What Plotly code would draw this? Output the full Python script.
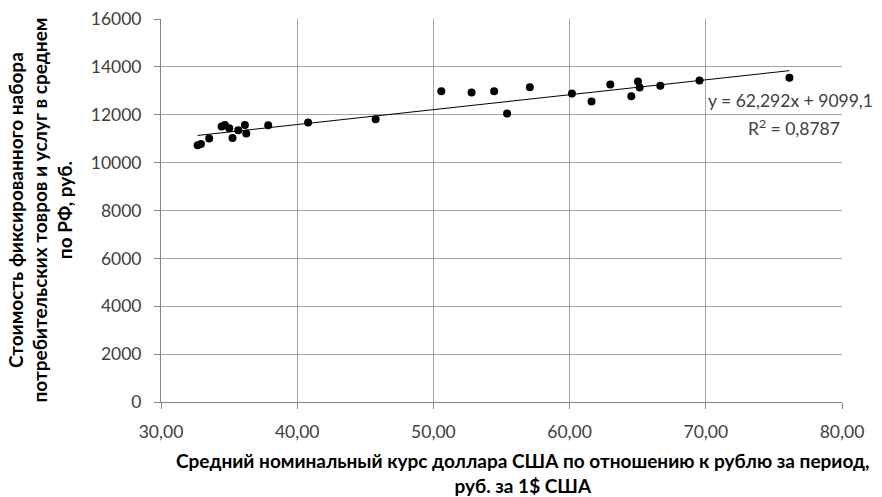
import plotly.graph_objects as go

# средний курс доллара, руб. за 1$
usd_rate = [32.69, 32.93, 33.54, 34.45, 34.69, 35.01, 35.25, 35.67, 36.16, 36.26,
            37.87, 40.80, 45.76, 50.58, 52.80, 54.46, 55.41, 57.08, 60.17, 61.61,
            62.99, 64.53, 65.02, 65.14, 66.66, 69.54, 76.14]
# стоимость фиксированного набора, руб.
basket_cost = [10723, 10777, 11003, 11506, 11573, 11435, 11028, 11351, 11573, 11213,
               11560, 11673, 11812, 12984, 12930, 12984, 12050, 13152, 12888, 12553,
               13265, 12775, 13390, 13139, 13207, 13432, 13542]

slope = 62.292
intercept = 9099.1
eq_text = "y = 62,292x + 9099,1"
r2_text = "R<sup>2</sup> = 0,8787"

x_ticks = [30, 40, 50, 60, 70, 80]
x_tick_labels = ["30,00", "40,00", "50,00", "60,00", "70,00", "80,00"]
y_ticks = [0, 2000, 4000, 6000, 8000, 10000, 12000, 14000, 16000]
y_tick_labels = [str(v) for v in y_ticks]

x_title = "<b>Средний номинальный курс доллара США по отношению к рублю за период,<br>руб. за 1$ США</b>"
y_title = "<b>Стоимость фиксированного набора<br>потребительских товров и услуг в среднем<br>по РФ, руб.</b>"

font_name = "Lato"
W, H = 882, 497
L, R, T, B = 161, 40, 19, 95
pw, ph = W - L - R, H - T - B

fig = go.Figure()
fig.add_trace(go.Scatter(x=usd_rate, y=basket_cost, mode="markers",
                         marker=dict(color="black", size=8), showlegend=False))

x0, x1 = min(usd_rate), max(usd_rate)
fig.add_trace(go.Scatter(x=[x0, x1], y=[slope * x0 + intercept, slope * x1 + intercept],
                         mode="lines", line=dict(color="black", width=1), showlegend=False))

# trendline label
fig.add_annotation(x=70, y=1 - (100 - T) / ph, xref="x", yref="paper", text=eq_text,
                   showarrow=False, xanchor="left", yanchor="middle",
                   font=dict(size=17.5, color="#404040", family=font_name))
fig.add_annotation(x=80, y=1 - (128 - T) / ph, xref="x", yref="paper", text=r2_text,
                   showarrow=False, xanchor="right", yanchor="middle",
                   font=dict(size=17.5, color="#404040", family=font_name))

# axis titles
fig.add_annotation(x=(523 - L) / pw, y=1 - (473 - T) / ph, xref="paper", yref="paper",
                   text=x_title, showarrow=False, xanchor="center", yanchor="middle",
                   font=dict(size=19, color="black", family=font_name))
fig.add_annotation(x=(39 - L) / pw, y=0.5, xref="paper", yref="paper",
                   text=y_title, showarrow=False, xanchor="center", yanchor="middle",
                   textangle=-90, font=dict(size=19, color="black", family=font_name))

fig.update_layout(
    width=W, height=H,
    paper_bgcolor="white", plot_bgcolor="white",
    margin=dict(l=L, r=R, t=T, b=B),
    font=dict(family=font_name, color="black"),
    xaxis=dict(range=[30, 80], tickvals=x_ticks, ticktext=x_tick_labels,
               showgrid=True, gridcolor="#a6a6a6", gridwidth=1,
               showline=True, linecolor="#868686", ticks="outside", ticklen=6,
               tickcolor="#868686", zeroline=False, automargin=False,
               ticklabelstandoff=8,
               tickfont=dict(size=17.5, color="#404040")),
    yaxis=dict(range=[0, 16000], tickvals=y_ticks, ticktext=y_tick_labels,
               showgrid=True, gridcolor="#a6a6a6", gridwidth=1,
               showline=True, linecolor="#868686", ticks="outside", ticklen=6,
               tickcolor="#868686", zeroline=False, automargin=False,
               ticklabelstandoff=9,
               tickfont=dict(size=17.5, color="#404040")),
)

# page body has a default 8px margin; drop it so the figure fills the window
fig.write_html("out.html", config={"displayModeBar": False},
               post_script="document.body.style.margin='0';")
